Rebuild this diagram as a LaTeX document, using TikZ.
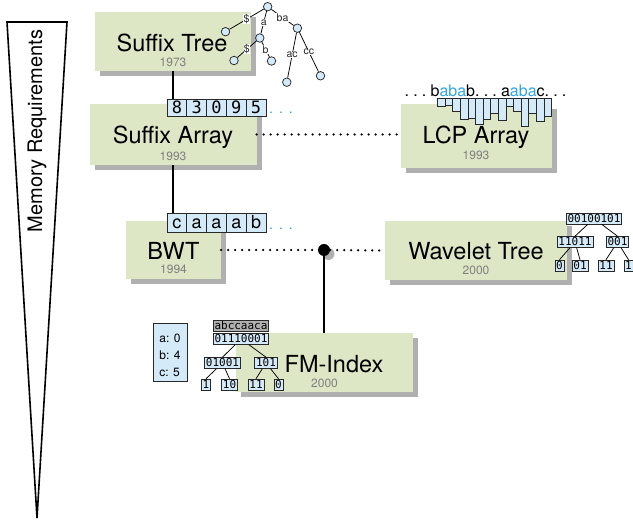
\documentclass[tikz,border=0pt]{standalone}
\usepackage{fontspec}
\setmainfont{TeX Gyre Heros}
\setmonofont{DejaVu Sans Mono}
\usetikzlibrary{shadows}

\definecolor{boxgreen}{RGB}{221,231,197}
\definecolor{shadowgray}{RGB}{176,176,176}
\definecolor{cellblue}{RGB}{212,234,248}
\definecolor{hiblue}{RGB}{48,166,228}
\definecolor{yeargray}{RGB}{128,128,128}
\definecolor{edgegray}{RGB}{40,40,40}
\newcommand{\gapdots}{.\kern4.2pt.\kern4.2pt.\kern4.2pt}
\newcommand{\moredots}{.\kern6pt.\kern6pt.}

\begin{document}
\begin{tikzpicture}[x=1pt, y=-1pt,
algobox/.style={fill=boxgreen, inner sep=0pt,
  drop shadow={shadow xshift=5pt, shadow yshift=-5pt, fill=shadowgray, opacity=1}},
algoname/.style={anchor=base, font=\fontsize{23.5}{28}\selectfont},
algoyear/.style={anchor=base, text=yeargray, font=\fontsize{12}{14}\selectfont},
sacell/.style={draw=edgegray, fill=cellblue, line width=0.8pt, inner sep=0pt, minimum width=19.8pt},
bitbox/.style={draw=edgegray, fill=cellblue, line width=0.7pt, inner sep=1.3pt,
  text height=7.9pt, text depth=0.4pt, font=\ttfamily\fontsize{11}{12}\selectfont},
stnode/.style={circle, draw=edgegray, fill=cellblue, line width=0.75pt, minimum size=8.5pt, inner sep=0pt},
stlabel/.style={midway, fill=white, inner sep=0.3pt, text=edgegray, font=\fontsize{10.5}{12}\selectfont},
lcpbar/.style={draw=edgegray, fill=cellblue, line width=0.7pt},
conn/.style={line width=1.8pt},
dotconn/.style={line width=2.5pt, line cap=round, dash pattern=on 0pt off 7pt},
wtedge/.style={line width=0.75pt}]

\useasboundingbox (0,0) rectangle (633,521);

% memory axis
\draw[line width=1.6pt] (7,22) -- (67,22) -- (37,518) -- cycle;
\node[rotate=90, anchor=base, font=\fontsize{20}{24}\selectfont] (memlabel) at (42,131) {Memory Requirements};

% algorithm boxes
\node[algobox, minimum width=156pt, minimum height=59pt] (stbox) at (173,41.5) {};
\node[algobox, minimum width=167pt, minimum height=61pt] (sabox) at (173,134.5) {};
\node[algobox, minimum width=151pt, minimum height=64pt] (lcpbox) at (476.5,136) {};
\node[algobox, minimum width=95pt, minimum height=58pt] (bwtbox) at (173.5,250) {};
\node[algobox, minimum width=182pt, minimum height=59pt] (wtbox) at (476,250.5) {};
\node[algobox, minimum width=177pt, minimum height=59pt] (fmbox) at (324,362.5) {};

\node[algoname] (sttitle) at (172,51.7) {Suffix Tree};
\node[algoyear] (styear) at (173,66.7) {1973};
\node[algoname] (satitle) at (173,143.3) {Suffix Array};
\node[algoyear] (sayear) at (173,160.7) {1993};
\node[algoname] (lcptitle) at (476,143.3) {LCP Array};
\node[algoyear] (lcpyear) at (476,160) {1993};
\node[algoname] (bwttitle) at (173.5,260) {BWT};
\node[algoyear] (bwtyear) at (173.5,274) {1994};
\node[algoname] (wttitle) at (476,259.5) {Wavelet Tree};
\node[algoyear] (wtyear) at (476,275) {2000};
\node[algoname] (fmtitle) at (334,372.3) {FM-Index};
\node[algoyear] (fmyear) at (324.5,388) {2000};

% suffix array
\node[sacell, minimum height=17pt, text height=12.4pt, text depth=0pt, font=\ttfamily\fontsize{17}{20}\selectfont] (sa1) at (176.9,107.5) {8};
\node[sacell, minimum height=17pt, text height=12.4pt, text depth=0pt, font=\ttfamily\fontsize{17}{20}\selectfont] (sa2) at (196.7,107.5) {3};
\node[sacell, minimum height=17pt, text height=12.4pt, text depth=0pt, font=\ttfamily\fontsize{17}{20}\selectfont] (sa3) at (216.5,107.5) {0};
\node[sacell, minimum height=17pt, text height=12.4pt, text depth=0pt, font=\ttfamily\fontsize{17}{20}\selectfont] (sa4) at (236.3,107.5) {9};
\node[sacell, minimum height=17pt, text height=12.4pt, text depth=0pt, font=\ttfamily\fontsize{17}{20}\selectfont] (sa5) at (256.1,107.5) {5};
\node[anchor=base west, inner sep=0pt, text=hiblue, font=\fontsize{14}{16}\selectfont] (sadots) at (269,113.5) {\moredots};

% bwt
\node[sacell, minimum height=19pt, text height=13pt, text depth=0pt, font=\fontsize{18}{20}\selectfont] (bw1) at (176.9,222.5) {c};
\node[sacell, minimum height=19pt, text height=13pt, text depth=0pt, font=\fontsize{18}{20}\selectfont] (bw2) at (196.7,222.5) {a};
\node[sacell, minimum height=19pt, text height=13pt, text depth=0pt, font=\fontsize{18}{20}\selectfont] (bw3) at (216.5,222.5) {a};
\node[sacell, minimum height=19pt, text height=13pt, text depth=0pt, font=\fontsize{18}{20}\selectfont] (bw4) at (236.3,222.5) {a};
\node[sacell, minimum height=19pt, text height=13pt, text depth=0pt, font=\fontsize{18}{20}\selectfont] (bw5) at (256.1,222.5) {b};
\node[anchor=base west, inner sep=0pt, text=hiblue, font=\fontsize{14}{16}\selectfont] (bwdots) at (269,229.5) {\moredots};

% lcp array
\node[anchor=base west, inner sep=0pt, font=\fontsize{16}{18}\selectfont] (lcptext) at (404.5,97)
  {\gapdots b\textcolor{hiblue}{aba}b\gapdots a\textcolor{hiblue}{aba}c\gapdots};
\draw[lcpbar] (437.5,98.5) rectangle +(7.6,8);
\draw[lcpbar] (445.1,98.5) rectangle +(7.6,6.5);
\draw[lcpbar] (452.7,98.5) rectangle +(7.6,13);
\draw[lcpbar] (460.3,98.5) rectangle +(7.6,21);
\draw[lcpbar] (467.9,98.5) rectangle +(7.6,20);
\draw[lcpbar] (475.5,98.5) rectangle +(7.6,26);
\draw[lcpbar] (483.1,98.5) rectangle +(7.6,21);
\draw[lcpbar] (490.7,98.5) rectangle +(7.6,15);
\draw[lcpbar] (498.3,98.5) rectangle +(7.6,22);
\draw[lcpbar] (505.9,98.5) rectangle +(7.6,7.5);
\draw[lcpbar] (513.5,98.5) rectangle +(7.6,13);
\draw[lcpbar] (521.1,98.5) rectangle +(7.6,28);
\draw[lcpbar] (528.7,98.5) rectangle +(7.6,15);
\draw[lcpbar] (536.3,98.5) rectangle +(7.6,23);
\draw[lcpbar] (543.9,98.5) rectangle +(7.6,18);

% suffix tree
\node[stnode] (r) at (267.7,6.7) {};
\node[stnode] (n1) at (225.5,31.7) {};
\node[stnode] (n2) at (259.8,38) {};
\node[stnode] (n3) at (297.4,28.2) {};
\node[stnode] (l1) at (234,60.5) {};
\node[stnode] (l2) at (271.5,61) {};
\node[stnode] (l3) at (286.8,82.2) {};
\node[stnode] (l4) at (320.5,75.8) {};
\draw[wtedge] (r) -- node[stlabel] {\$} (n1);
\draw[wtedge] (r) -- node[stlabel] {a} (n2);
\draw[wtedge] (r) -- node[stlabel] {ba} (n3);
\draw[wtedge] (n2) -- node[stlabel] {\$} (l1);
\draw[wtedge] (n2) -- node[stlabel] {b} (l2);
\draw[wtedge] (n3) -- node[stlabel] {ac} (l3);
\draw[wtedge] (n3) -- node[stlabel] {cc} (l4);

% wavelet tree
\node[bitbox] (w0) at (594,218.5) {00100101};
\node[bitbox] (w1) at (575,242) {11011};
\node[bitbox] (w2) at (617.5,242) {001};
\node[bitbox] (w11) at (559.5,265.5) {0};
\node[bitbox] (w12) at (580,265.5) {01};
\node[bitbox] (w21) at (606,265.5) {11};
\node[bitbox] (w22) at (628.5,265.5) {1};
\draw[wtedge] (w0) -- (w1.north);
\draw[wtedge] (w0) -- (w2.north);
\draw[wtedge] (w1) -- (w11.north);
\draw[wtedge] (w1) -- (w12.north);
\draw[wtedge] (w2) -- (w21.north);
\draw[wtedge] (w2) -- (w22.north);

% fm-index
\node[draw=edgegray, fill=cellblue, line width=0.7pt, minimum width=34pt, minimum height=58pt] (cbox) at (170,352) {};
\node[align=left, font=\fontsize{12}{16.7}\selectfont] (ctext) at (170,355.5) {a: 0\\b: 4\\c: 5};
\node[bitbox, fill=shadowgray] (fmtext) at (241,325.5) {abccaaca};
\node[bitbox] (f0) at (241,339) {01110001};
\node[bitbox] (f1) at (222.5,363) {01001};
\node[bitbox] (f2) at (266,363) {101};
\node[bitbox] (f11) at (206,384.5) {1};
\node[bitbox] (f12) at (229.5,384.5) {10};
\node[bitbox] (f21) at (256,384.5) {11};
\node[bitbox] (f22) at (278.5,384.5) {0};
\draw[wtedge] (f0) -- (f1.north);
\draw[wtedge] (f0) -- (f2.north);
\draw[wtedge] (f1) -- (f11.north);
\draw[wtedge] (f1) -- (f12.north);
\draw[wtedge] (f2) -- (f21.north);
\draw[wtedge] (f2) -- (f22.north);

% connections
\node[circle, fill=black, minimum size=12pt, inner sep=0pt,
  drop shadow={shadow xshift=4.5pt, shadow yshift=-4pt, fill=shadowgray, opacity=1}] (jn) at (324,250) {};
\draw[conn] (stbox.south) -- (stbox.south |- sa1.north);
\draw[conn] (sabox.south) -- (sabox.south |- bw1.north);
\draw[dotconn] (sabox.east) -- (sabox.east -| lcpbox.west);
\draw[dotconn] (bwtbox.east) -- (jn) -- (wtbox.west);
\draw[conn] (jn) -- (fmbox.north);

\end{tikzpicture}
\end{document}
